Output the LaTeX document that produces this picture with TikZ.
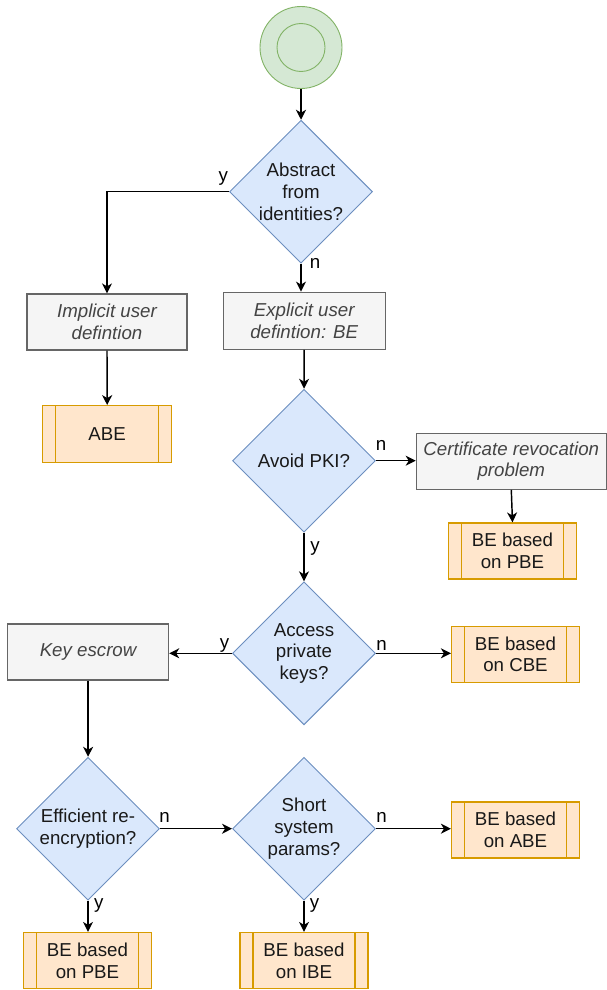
\documentclass[tikz,border=0pt]{standalone}
\usepackage{fontspec}
\setmainfont{Liberation Sans}
\usetikzlibrary{shapes.geometric,arrows.meta,calc}
\definecolor{diafill}{HTML}{DAE8FC}
\definecolor{diastroke}{HTML}{6C8EBF}
\definecolor{grayfill}{HTML}{F5F5F5}
\definecolor{graystroke}{HTML}{666666}
\definecolor{graytext}{HTML}{444444}
\definecolor{orfill}{HTML}{FFE6CC}
\definecolor{orstroke}{HTML}{D79B00}
\definecolor{grfill}{HTML}{D5E8D4}
\definecolor{grstroke}{HTML}{82B366}
\tikzset{
  every node/.style={font=\fontsize{18.7}{21.7}\selectfont},
  dia/.style={diamond, aspect=1, draw=diastroke, fill=diafill, line width=0.9pt,
    minimum width=143pt, minimum height=143pt, inner sep=0pt},
  diatext/.style={align=center, text=black!90, inner sep=0pt},
  graybox/.style={rectangle, draw=graystroke, fill=grayfill, line width=1.2pt,
    text=graytext, align=center, inner sep=2pt, font=\fontsize{18.7}{21.7}\selectfont\itshape},
  procbox/.style={rectangle, draw=orstroke, fill=orfill, line width=1.2pt,
    minimum width=128pt, minimum height=56pt, align=center, inner sep=2pt, text=black!90,
    path picture={
      \draw[orstroke, line width=1.2pt]
        ([xshift=13pt]path picture bounding box.north west) -- ([xshift=13pt]path picture bounding box.south west)
        ([xshift=-13pt]path picture bounding box.north east) -- ([xshift=-13pt]path picture bounding box.south east);
    }},
  flow/.style={draw=black, line width=1.45pt, -{Stealth[length=10pt, width=10pt, inset=3pt]}},
  lbl/.style={anchor=base, inner sep=0pt, text=black}
}
\begin{document}
\begin{tikzpicture}[x=1pt, y=-1pt]
\useasboundingbox (0,0) rectangle (607,990);

% start
\node[circle, draw=grstroke, fill=grfill, line width=0.9pt, minimum size=82pt, inner sep=0pt] (start) at (301,47.5) {};
\node[circle, draw=grstroke, line width=0.9pt, minimum size=48pt, inner sep=0pt] (startin) at (start) {};

% diamonds
\node[dia] (d1) at (301,191.7) {};
\node[diatext] (d1t) at (d1) {Abstract\\from\\identities?};
\node[dia] (d2) at (304,460.7) {};
\node[diatext] (d2t) at (d2) {Avoid PKI?};
\node[dia] (d3) at (304,653.3) {};
\node[diatext] (d3t) at (d3) {Access\\private\\keys?};
\node[dia] (d4) at (88,828.7) {};
\node[diatext] (d4t) at (d4) {Efficient re-\\encryption?};
\node[dia] (d5) at (304,828.7) {};
\node[diatext] (d5t) at (d5) {Short\\system\\params?};

% gray boxes
\node[graybox, minimum width=160pt, minimum height=56pt] (impl) at (107,322) {Implicit user\\defintion};
\node[graybox, minimum width=162pt, minimum height=57pt] (expl) at (304.2,320.7) {Explicit user\\defintion: BE};
\node[graybox, minimum width=190pt, minimum height=56pt] (cert) at (511.3,461.3) {Certificate revocation\\problem};
\node[graybox, minimum width=161pt, minimum height=56pt] (escrow) at (88.1,652) {Key escrow};

% process boxes
\node[procbox, minimum width=129pt, minimum height=57pt] (abe) at (107.2,434.2) {ABE};
\node[procbox] (pbe1) at (512.5,551) {BE based\\on PBE};
\node[procbox] (cbe) at (515.5,654.2) {BE based\\on CBE};
\node[procbox] (abe2) at (515.5,830) {BE based\\on ABE};
\node[procbox] (pbe2) at (87.5,960.5) {BE based\\on PBE};
\node[procbox] (ibe) at (304,960.5) {BE based\\on IBE};

% connectors
\draw[flow] (start.south) -- (d1.north);
\draw[flow] (d1.west) -| (impl.north);
\draw[flow] (d1.south) -- (d1.south |- expl.north);
\draw[flow] (impl.south) -- (abe.north);
\draw[flow] (expl.south) -- (d2.north);
\draw[flow] (d2.east) -- (d2.east -| cert.west);
\draw[flow] (cert.south) -- (pbe1.north);
\draw[flow] (d2.south) -- (d3.north);
\draw[flow] (d3.west) -- (d3.west -| escrow.east);
\draw[flow] (d3.east) -- (d3.east -| cbe.west);
\draw[flow] (escrow.south) -- (escrow.south |- d4.north);
\draw[flow] (d4.east) -- (d5.west);
\draw[flow] (d5.east) -- (d5.east -| abe2.west);
\draw[flow] (d4.south) -- (d4.south |- pbe2.north);
\draw[flow] (d5.south) -- (ibe.north);

% labels
\node[lbl] (l1y) at (223.3,181) {y};
\node[lbl] (l1n) at (315,268) {n};
\node[lbl] (l2n) at (381,450.7) {n};
\node[lbl] (l2y) at (315,551) {y};
\node[lbl] (l3y) at (224.6,648) {y};
\node[lbl] (l3n) at (381.5,650) {n};
\node[lbl] (l4n) at (164.6,822.7) {n};
\node[lbl] (l5n) at (381.5,822.7) {n};
\node[lbl] (l4y) at (98.8,908) {y};
\node[lbl] (l5y) at (314.5,908) {y};
\end{tikzpicture}
\end{document}
